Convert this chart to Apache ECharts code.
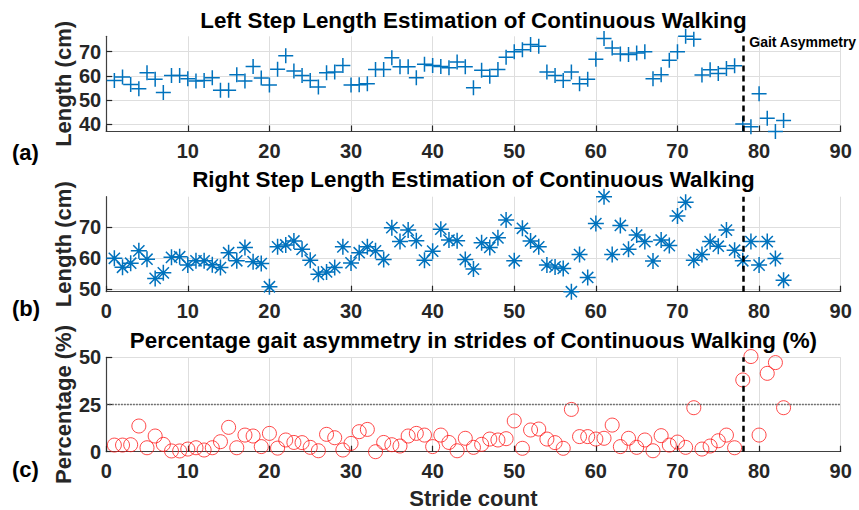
<!DOCTYPE html>
<html>
<head>
<meta charset="utf-8">
<script src="https://cdn.jsdelivr.net/npm/echarts@6/dist/echarts.min.js"></script>
<style>
  html, body { margin: 0; padding: 0; background: #fff; }
  #chart { width: 859px; height: 510px; }
</style>
</head>
<body>
<div id="chart"></div>
<script>
// Stride numbers of the walking trial
const strides = [1,2,3,4,5,6,7,8,9,10,11,12,13,14,15,16,17,18,19,20,
  21,22,23,24,25,26,27,28,29,30,31,32,33,34,35,36,37,38,39,40,
  41,42,43,44,45,46,47,48,49,50,51,52,53,54,55,56,57,58,59,60,
  61,62,63,64,65,66,67,68,69,70,71,72,73,74,75,76,77,78,79,80,
  81,82,83];

// Estimated left step length per stride (cm)
const leftStep = [58.1,59.5,56.5,54.7,61.3,58.6,53.2,60.2,60.2,58.8,
  57.9,58.1,59.2,54.1,54.1,60.5,57.9,63.9,59.1,56.2,
  62.7,68.3,62.0,60.2,58.1,55.4,61.3,61.6,64.3,56.2,
  56.3,56.8,62.6,62.6,67.5,63.8,63.8,59.2,64.8,64.3,
  63.9,63.4,65.7,63.8,55.1,62.3,59.9,62.6,67.7,69.9,
  70.8,72.9,72.2,61.6,60.2,58.1,61.6,56.8,58.6,66.8,
  75.4,71.5,69.0,68.8,69.4,69.9,58.8,60.5,66.4,69.9,
  76.3,75.1,60.4,62.5,61.0,63.0,64.2,40.2,39.1,52.6,
  42.6,37.1,41.6];

// Estimated right step length per stride (cm)
const rightStep = [60.0,57.1,58.4,62.4,59.7,53.5,55.3,60.3,60.5,57.8,
  59.2,59.2,57.9,57.0,61.8,59.2,63.5,58.9,58.3,50.8,
  63.7,64.3,65.6,62.9,59.4,54.8,55.6,57.0,63.7,58.5,
  61.8,63.7,62.4,59.6,69.9,65.4,69.1,65.7,59.4,62.3,
  69.4,65.9,65.7,59.6,56.5,65.0,63.5,66.6,72.4,59.2,
  69.7,65.6,63.7,57.8,57.2,56.7,49.2,61.2,53.8,71.2,
  79.9,61.2,70.6,62.9,67.5,65.4,59.1,65.9,64.1,73.7,
  78.1,59.4,61.2,65.4,63.9,69.1,62.6,59.2,65.4,57.8,
  65.4,59.9,52.9];

// Percentage gait asymmetry per stride (%)
const asymmetry = [3.5,3.5,3.7,13.6,2.1,8.3,3.9,0.4,0.4,1.4,
  2.1,0.9,2.1,5.3,12.9,2.1,8.8,8.3,2.7,9.7,
  1.9,6.2,4.9,4.8,2.3,0.5,9.2,7.4,0.9,4.4,
  10.6,11.8,0.0,4.9,3.7,3.0,8.3,9.7,8.8,2.7,
  8.8,4.9,0.5,7.1,2.3,3.9,6.7,6.2,6.9,16.3,
  1.8,11.5,12.0,6.7,4.8,1.8,22.4,8.0,8.0,6.7,
  7.1,14.1,2.7,7.1,2.3,6.2,0.5,8.5,3.5,5.1,
  2.3,23.3,1.4,3.0,5.8,8.8,2.1,38.0,50.4,8.8,
  41.5,47.2,23.3];

// Tick values
const strideTicks = [0,10,20,30,40,50,60,70,80,90];
const leftTicks = [40,50,60,70];
const rightTicks = [50,60,70];
const pctTicks = [0,25,50];

// Annotation values
const asymmetryOnset = 78;      // stride where the asymmetry starts
const asymmetryThreshold = 25;  // percentage reference line

const FONT = '"Liberation Sans", Arial, Helvetica, sans-serif';
const BLUE = '#0072BD';
const RED = '#ff1a1a';
const AXIS_COLOR = '#404040';
const TEXT_COLOR = '#262626';
const GRID_COLOR = '#dedede';

// '+' and '*' marker outlines (16 x 16 box)
const PLUS_PATH = 'path://M7.2,0H8.8V16H7.2Z M0,7.2H16V8.8H0Z';
const STAR_PATH = 'path://M7.25,0H8.75V16H7.25Z M0,7.25H16V8.75H0Z ' +
  'M2.93,1.87L14.13,13.07L13.07,14.13L1.87,2.93Z ' +
  'M13.07,1.87L14.13,2.93L2.93,14.13L1.87,13.07Z';

const pairs = (ys) => strides.map((s, i) => [s, ys[i]]);

const grids = [
  { left: 106.2, right: 18.3, top: 36.3, height: 95.2 },
  { left: 106.2, right: 18.3, top: 196.7, height: 95.0 },
  { left: 106.2, right: 18.3, top: 357.3, height: 94.4 }
].map(g => Object.assign({ outerBoundsMode: 'none', containLabel: false }, g));

function xAxisFor(gridIndex, hideZero) {
  return {
    type: 'value', gridIndex, min: strideTicks[0], max: strideTicks[strideTicks.length - 1],
    interval: strideTicks[1] - strideTicks[0],
    axisLine: { show: true, onZero: false, lineStyle: { color: AXIS_COLOR, width: 1.2 } },
    axisTick: { show: true, inside: true, length: 6, lineStyle: { color: TEXT_COLOR, width: 1.2 } },
    axisLabel: {
      show: true, color: TEXT_COLOR, fontSize: 20, fontWeight: 'bold', fontFamily: FONT,
      lineHeight: 20, margin: 9, hideOverlap: false,
      formatter: (v) => (hideZero && v === 0) ? '' : String(v)
    },
    splitLine: { show: true, lineStyle: { color: GRID_COLOR, width: 1 } }
  };
}

function yAxisFor(gridIndex, range, ticks) {
  return {
    type: 'value', gridIndex, min: range[0], max: range[1],
    axisLine: { show: true, onZero: false, lineStyle: { color: AXIS_COLOR, width: 1.2 } },
    axisTick: { show: true, inside: true, length: 6, customValues: ticks,
      lineStyle: { color: TEXT_COLOR, width: 1.2 } },
    axisLabel: {
      show: true, customValues: ticks, color: TEXT_COLOR, fontSize: 20, fontWeight: 'bold',
      fontFamily: FONT, margin: 5, hideOverlap: false
    },
    splitLine: { show: true, lineStyle: { color: GRID_COLOR, width: 1 } }
  };
}

const onsetLine = {
  silent: true, symbol: ['none', 'none'], animation: false,
  label: { show: false },
  lineStyle: { color: '#000', width: 2.5, type: [6, 4] },
  data: [{ xAxis: asymmetryOnset }]
};

const leftRange = [Math.min(...leftStep), Math.max(...leftStep)];
const rightRange = [Math.min(...rightStep), Math.max(...rightStep)];
const pctRange = [pctTicks[0], pctTicks[pctTicks.length - 1]];

// Bold text element helper for titles, axis names and panel letters
function textEl(text, x, y, size, color, align, rotated) {
  return {
    type: 'text', x, y, silent: true, rotation: rotated ? Math.PI / 2 : 0,
    style: {
      text, fill: color, font: 'bold ' + size + 'px ' + FONT,
      align: align || 'center', verticalAlign: 'middle'
    }
  };
}

const plotCenterX = 106.2 + (859 - 106.2 - 18.3) / 2;
const TITLE_SIZE = 22.4;

const option = {
  animation: false,
  backgroundColor: '#fff',
  grid: grids,
  xAxis: [xAxisFor(0, true), xAxisFor(1, false), xAxisFor(2, false)],
  yAxis: [
    yAxisFor(0, leftRange, leftTicks),
    yAxisFor(1, rightRange, rightTicks),
    yAxisFor(2, pctRange, pctTicks)
  ],
  series: [
    {
      name: 'Left step length', type: 'scatter', xAxisIndex: 0, yAxisIndex: 0,
      data: pairs(leftStep), symbol: PLUS_PATH, symbolSize: 15, clip: false,
      itemStyle: { color: BLUE, opacity: 1 },
      markLine: onsetLine,
      markPoint: {
        silent: true, animation: false,
        data: [{
          coord: [asymmetryOnset, leftRange[1]], symbol: 'circle', symbolSize: 1,
          itemStyle: { color: 'rgba(0,0,0,0)' },
          label: {
            show: true, formatter: 'Gait Asymmetry', position: [7, 6],
            align: 'left', verticalAlign: 'middle',
            color: '#000', fontSize: 14, fontWeight: 'bold', fontFamily: FONT
          }
        }]
      }
    },
    {
      name: 'Right step length', type: 'scatter', xAxisIndex: 1, yAxisIndex: 1,
      data: pairs(rightStep), symbol: STAR_PATH, symbolSize: 16, clip: false,
      itemStyle: { color: BLUE, opacity: 1 },
      markLine: onsetLine
    },
    {
      name: 'Gait asymmetry', type: 'scatter', xAxisIndex: 2, yAxisIndex: 2,
      data: pairs(asymmetry), symbol: 'circle', symbolSize: 14, clip: false,
      itemStyle: { color: 'rgba(0,0,0,0)', borderColor: RED, borderWidth: 1 },
      markLine: {
        silent: true, symbol: ['none', 'none'], animation: false,
        label: { show: false },
        data: [
          { xAxis: asymmetryOnset, lineStyle: { color: '#000', width: 2.5, type: [6, 4] } },
          { yAxis: asymmetryThreshold, lineStyle: { color: '#555', width: 1.3, type: [1.5, 1.5] } }
        ]
      }
    }
  ],
  graphic: [
    textEl('Left Step Length Estimation of Continuous Walking', plotCenterX, 20.7, TITLE_SIZE, '#000'),
    textEl('Right Step Length Estimation of Continuous Walking', plotCenterX, 179.7, TITLE_SIZE, '#000'),
    textEl('Percentage gait asymmetry in strides of Continuous Walking (%)', plotCenterX, 340.3, TITLE_SIZE, '#000'),
    textEl('Length (cm)', 63.4, 36.3 + 95.2 / 2, 22, TEXT_COLOR, 'center', true),
    textEl('Length (cm)', 63.4, 196.7 + 95.0 / 2, 22, TEXT_COLOR, 'center', true),
    textEl('Percentage (%)', 63.4, 357.3 + 94.4 / 2, 22, TEXT_COLOR, 'center', true),
    textEl('Stride count', plotCenterX, 498, 22, TEXT_COLOR),
    textEl('(a)', 12, 152, 22, '#000', 'left'),
    textEl('(b)', 12, 308, 22, '#000', 'left'),
    textEl('(c)', 12, 469, 22, '#000', 'left')
  ]
};

const chart = echarts.init(document.getElementById('chart'), null, { renderer: 'svg', width: 859, height: 510 });
chart.setOption(option);
</script>
</body>
</html>
